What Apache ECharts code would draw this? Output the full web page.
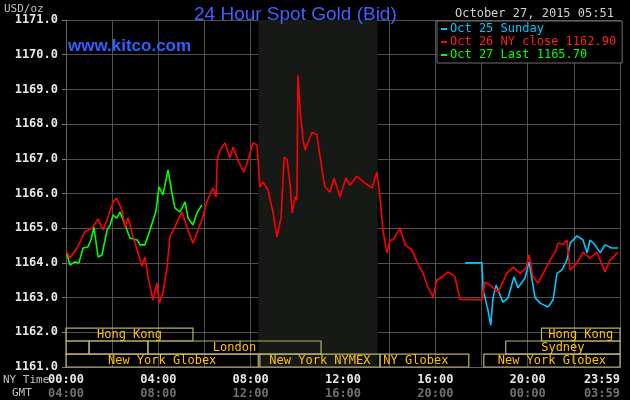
<!DOCTYPE html>
<html><head><meta charset="utf-8">
<script src="https://cdn.jsdelivr.net/npm/echarts@6/dist/echarts.min.js"></script>
<style>html,body{margin:0;padding:0;background:#000;}#c{width:630px;height:400px;}</style>
</head><body><div id="c"></div>
<script>
// [hour (NY time), price]
const oct26Red = [[0,1164.37],[0.17,1164.14],[0.48,1164.43],[0.82,1164.9],[1.13,1165.0],[1.39,1165.27],[1.6,1164.95],[1.78,1165.24],[2.04,1165.76],[2.2,1165.87],[2.43,1165.5],[2.56,1165.03],[2.69,1165.3],[2.86,1164.86],[3.08,1164.37],[3.29,1163.9],[3.42,1164.17],[3.55,1163.6],[3.77,1162.93],[3.94,1163.42],[4.03,1162.84],[4.2,1163.13],[4.38,1163.88],[4.5,1164.75],[4.72,1165.03],[4.85,1165.24],[5.03,1165.47],[5.24,1165.03],[5.5,1164.57],[5.67,1164.86],[5.89,1165.24],[6.1,1165.76],[6.37,1166.16],[6.5,1165.9],[6.55,1166.97],[6.67,1167.25],[6.89,1167.46],[7.1,1167.02],[7.24,1167.34],[7.5,1166.88],[7.71,1166.62],[7.89,1166.97],[8.1,1167.46],[8.27,1167.4],[8.4,1166.19],[8.54,1166.33],[8.75,1166.1],[8.97,1165.44],[9.14,1164.75],[9.32,1165.32],[9.45,1167.05],[9.58,1166.97],[9.7,1166.3],[9.8,1165.44],[9.92,1165.9],[10.0,1165.81],[10.05,1169.41],[10.14,1168.4],[10.27,1167.54],[10.36,1167.25],[10.66,1167.77],[10.87,1167.69],[11.09,1166.68],[11.22,1166.19],[11.44,1166.04],[11.61,1166.45],[11.87,1165.9],[12.13,1166.45],[12.3,1166.24],[12.6,1166.5],[12.95,1166.3],[13.26,1166.16],[13.47,1166.62],[13.6,1165.9],[13.73,1164.95],[13.9,1164.29],[14.04,1164.66],[14.17,1164.66],[14.47,1165.0],[14.69,1164.52],[14.99,1164.37],[15.21,1164.03],[15.47,1163.7],[15.68,1163.3],[15.9,1163.02],[16.07,1163.5],[16.29,1163.6],[16.55,1163.74],[16.85,1163.6],[17.07,1162.95],[18.02,1162.93],[18.15,1163.45],[18.37,1163.36],[18.72,1163.16],[19.1,1163.7],[19.37,1163.88],[19.67,1163.7],[19.93,1163.85],[20.06,1164.23],[20.23,1163.6],[20.45,1163.42],[20.67,1163.7],[20.97,1164.08],[21.19,1164.31],[21.32,1164.57],[21.53,1164.52],[21.7,1164.66],[21.84,1163.8],[22.14,1164.0],[22.4,1164.31],[22.7,1164.14],[23.0,1164.31],[23.35,1163.74],[23.57,1164.08],[23.92,1164.31]];
const oct25Cyan = [[17.29,1164.0],[18.02,1164.0],[18.07,1163.22],[18.28,1162.64],[18.4,1162.2],[18.5,1163.0],[18.63,1163.36],[18.93,1162.87],[19.15,1162.99],[19.41,1163.6],[19.58,1163.28],[19.89,1163.57],[20.06,1164.03],[20.32,1163.0],[20.54,1162.84],[20.88,1162.73],[21.1,1162.93],[21.27,1163.7],[21.49,1163.8],[21.7,1164.08],[21.84,1164.57],[22.14,1164.78],[22.4,1164.66],[22.57,1164.29],[22.7,1164.66],[22.92,1164.52],[23.14,1164.29],[23.35,1164.52],[23.65,1164.43],[23.92,1164.43]];
const oct27Green = [[0.03,1164.29],[0.17,1163.94],[0.39,1164.03],[0.56,1164.0],[0.74,1164.43],[0.95,1164.46],[1.08,1164.66],[1.21,1165.03],[1.39,1164.17],[1.56,1164.23],[1.78,1164.95],[1.91,1165.09],[2.04,1165.38],[2.2,1165.29],[2.34,1165.47],[2.56,1165.09],[2.77,1164.72],[3.08,1164.66],[3.21,1164.52],[3.42,1164.52],[3.64,1164.95],[3.9,1165.5],[4.03,1166.19],[4.2,1165.96],[4.42,1166.68],[4.59,1166.01],[4.72,1165.58],[4.94,1165.47],[5.16,1165.76],[5.29,1165.29],[5.5,1165.09],[5.67,1165.44],[5.89,1165.67]];
const legendNames = ['Oct 25 Sunday','Oct 26 NY close 1162.90','Oct 27 Last 1165.70'];
// [startHour, endHour, row(0 top), label]
const sessions = [[0,5.5,0,'Hong Kong'],[20.6,24,0,'Hong Kong'],[0,1.0,1,''],[1.0,3.55,1,''],[3.55,11.05,1,'London'],[19.05,24,1,'Sydney'],[0,8.33,2,'New York Globex'],[8.4,13.6,2,'New York NYMEX'],[13.6,17.45,2,'NY Globex'],[18.1,24,2,'New York Globex']];
const rowBounds = [[1161.75,1162.12],[1161.37,1161.75],[1161.0,1161.37]];
const nymex = [8.33,13.5];
const yTicks = {min:1161,max:1171,step:1};

const mono = 'DejaVu Sans Mono';
const fmtH = (v, off) => { if (v >= 24) return off ? '03:59' : '23:59'; const h = (Math.round(v) + off) % 24; return (h<10?'0':'')+h+':00'; };
const chart = echarts.init(document.getElementById('c'));
chart.setOption({
  backgroundColor:'#000',
  animation:false,
  title:{text:'24 Hour Spot Gold (Bid)',left:189,top:0,textStyle:{color:'#4060ff',fontSize:19,fontWeight:'normal',fontFamily:'Liberation Sans'}},
  graphic:[
    {type:'text',left:4,top:4,style:{text:'USD/oz',fill:'#c0c0c0',font:'11px '+mono}},
    {type:'text',left:68,top:38,z:100,style:{text:'www.kitco.com',fill:'#3060ff',font:'bold 17px Liberation Sans'}},
    {type:'text',left:455,top:8,style:{text:'October 27, 2015 05:51',fill:'#d0d0d0',font:'12px '+mono}},
    {type:'text',left:3,top:375,style:{text:'NY Time',fill:'#c0c0c0',font:'11px '+mono}},
    {type:'text',left:12,top:388,style:{text:'GMT',fill:'#c0c0c0',font:'11px '+mono}}
  ],
  legend:{orient:'vertical',left:437,top:21,padding:[2,6,2,4],itemGap:1,itemWidth:6,itemHeight:2,icon:'rect',
    backgroundColor:'#000',borderColor:'#707070',borderWidth:1,
    data:[{name:legendNames[0],textStyle:{color:'#00c8ff'}},{name:legendNames[1],textStyle:{color:'#ff2020'}},{name:legendNames[2],textStyle:{color:'#00ff00'}}],
    textStyle:{fontFamily:mono,fontSize:12,padding:[0,0,0,-2]}},
  grid:{left:66,right:10,top:20,bottom:33,outerBoundsMode:'none',containLabel:false},
  xAxis:[{type:'value',min:0,max:24,interval:2,
    axisLine:{show:true,lineStyle:{color:'#606060'}},axisTick:{show:false},
    splitLine:{lineStyle:{color:'#505050'}},
    axisLabel:{color:'#e8e8e8',fontFamily:mono,fontWeight:'bold',fontSize:12,margin:7,showMaxLabel:true,alignMaxLabel:'right',
      formatter:v=> (v%4===0||v>=24)?fmtH(v,0):''}},
    {type:'value',min:0,max:24,interval:2,position:'bottom',offset:14,
    axisLine:{show:false},axisTick:{show:false},splitLine:{show:false},
    axisLabel:{color:'#707070',fontFamily:mono,fontWeight:'bold',fontSize:12,margin:7,showMaxLabel:true,alignMaxLabel:'right',
      formatter:v=> (v%4===0||v>=24)?fmtH(v,4):''}}],
  yAxis:{type:'value',min:yTicks.min,max:yTicks.max,interval:yTicks.step,
    axisLine:{show:true,lineStyle:{color:'#606060'}},axisTick:{show:true,length:4,lineStyle:{color:'#808080'}},
    splitLine:{lineStyle:{color:'#505050'}},
    axisLabel:{color:'#e8e8e8',fontFamily:mono,fontWeight:'bold',fontSize:12,margin:8,formatter:v=>v.toFixed(1)}},
  series:[
    {type:'line',name:'shade',data:[],z:0,silent:true,
      markArea:{silent:true,itemStyle:{color:'#161916'},data:[[{xAxis:nymex[0]},{xAxis:nymex[1]}]]}},
    {type:'line',name:'sessions',data:[],z:1,silent:true,
      markArea:{silent:true,itemStyle:{color:'rgba(0,0,0,0)',borderColor:'#b8b070',borderWidth:1.2},
        label:{color:'#ffc000',fontFamily:mono,fontSize:12},
        data:sessions.map(s=>[{xAxis:s[0],yAxis:rowBounds[s[2]][0],label:{show:!!s[3],formatter:s[3],position:s[3]==='NY Globex'?'insideLeft':'inside',distance:4}},{xAxis:s[1],yAxis:rowBounds[s[2]][1]}])}},
    {type:'line',name:legendNames[2],data:oct27Green,color:'#00ff00',showSymbol:false,lineStyle:{width:1.6},z:3},
    {type:'line',name:legendNames[0],data:oct25Cyan,color:'#00c8ff',showSymbol:false,lineStyle:{width:1.6},z:4},
    {type:'line',name:legendNames[1],data:oct26Red,color:'#ff0000',showSymbol:false,lineStyle:{width:1.6},z:5}
  ]
});
</script></body></html>
